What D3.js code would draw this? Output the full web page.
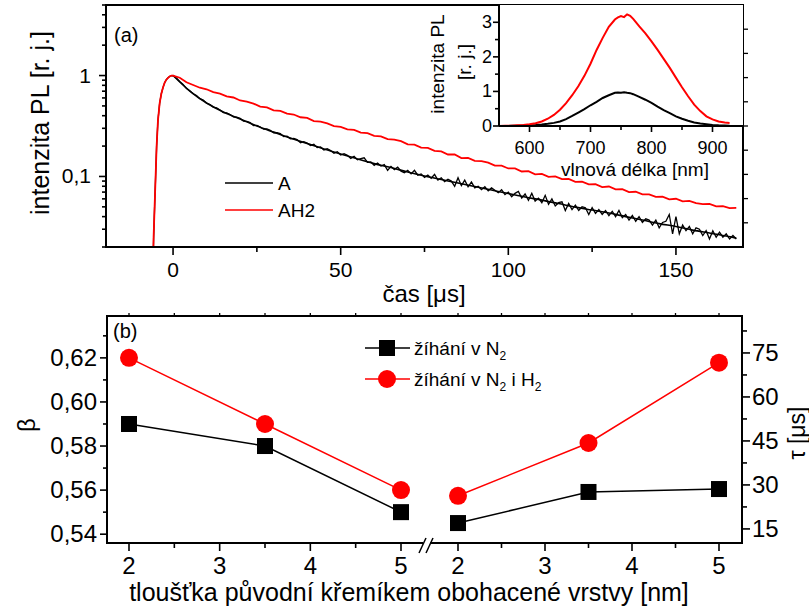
<!DOCTYPE html>
<html><head><meta charset="utf-8">
<script src="https://cdn.jsdelivr.net/npm/d3@7"></script>
<style>body{margin:0;background:#fff} text{font-family:"Liberation Sans",Arial,sans-serif;fill:#000}</style>
</head><body><svg id="c" width="809" height="607"></svg>
<script>
// ---------- panel (a): PL decay ----------
const riseTime = [-6, -5.8, -5.5, -5.2, -4.9, -4.5, -4, -3.5, -3, -2.5, -2, -1.5, -1, -0.5];
const riseA    = [0.012, 0.024, 0.05, 0.1, 0.2, 0.36, 0.53, 0.66, 0.76, 0.85, 0.91, 0.95, 0.98, 0.995];
const riseAH2  = [0.012, 0.025, 0.05, 0.1, 0.2, 0.36, 0.53, 0.66, 0.76, 0.85, 0.91, 0.95, 0.98, 1.0];
const decayTimeA = d3.range(0, 169, 1);
const decayA = [1.0,0.945,0.872,0.815,0.742,0.708,0.659,0.634,0.590,0.571,0.531,0.517,0.487,0.478,0.455,0.430,0.426,0.411,0.389,0.386,
0.376,0.354,0.351,0.341,0.320,0.321,0.309,0.294,0.296,0.287,0.271,0.272,0.266,0.248,0.251,0.236,0.238,0.232,0.216,0.221,
0.214,0.203,0.208,0.193,0.196,0.183,0.188,0.181,0.170,0.176,0.163,0.168,0.162,0.151,0.158,0.146,0.150,0.153,0.138,0.139,
0.129,0.136,0.127,0.131,0.115,0.126,0.117,0.124,0.113,0.109,0.115,0.106,0.115,0.103,0.106,0.098,0.103,0.096,0.105,0.092,
0.097,0.089,0.094,0.090,0.080,0.097,0.081,0.092,0.079,0.088,0.077,0.080,0.074,0.079,0.072,0.077,0.073,0.069,0.074,0.066,
0.070,0.063,0.068,0.071,0.061,0.067,0.058,0.068,0.057,0.061,0.055,0.065,0.053,0.060,0.051,0.055,0.056,0.046,0.054,0.047,
0.052,0.046,0.050,0.049,0.042,0.049,0.043,0.047,0.042,0.046,0.041,0.045,0.040,0.046,0.039,0.042,0.037,0.041,0.036,0.040,
0.035,0.038,0.037,0.033,0.037,0.031,0.035,0.036,0.042,0.027,0.040,0.027,0.033,0.029,0.032,0.027,0.031,0.030,0.026,0.029,
0.024,0.029,0.025,0.028,0.025,0.027,0.024,0.026,0.024];
const decayTimeAH2 = d3.range(0, 169, 2);
const decayAH2 = [1.0,0.952,0.858,0.806,0.757,0.731,0.684,0.662,0.622,0.606,0.566,0.551,0.527,0.493,0.484,0.452,0.446,0.419,0.411,0.386,
0.380,0.354,0.349,0.335,0.316,0.310,0.293,0.289,0.272,0.269,0.253,0.250,0.234,0.232,0.224,0.208,0.207,0.193,0.192,0.179,
0.177,0.165,0.165,0.152,0.153,0.143,0.142,0.137,0.128,0.128,0.120,0.120,0.112,0.113,0.105,0.106,0.099,0.100,0.094,0.0945,
0.0885,0.089,0.0835,0.084,0.0785,0.0795,0.0745,0.075,0.070,0.0705,0.0665,0.0665,0.0628,0.0632,0.0594,0.0601,0.0566,0.0572,0.0545,0.0531,
0.0534,0.0506,0.0509,0.0486,0.0488];
const fitTime = [0,5,10,15,20,25,30,35,40,45,50,55,60,65,70,75,80,85,90,95,100,105,110,115,120,125,130,135,140,145,150,155,160,165,168];
const fitA = [1.0,0.702,0.534,0.435,0.371,0.316,0.275,0.240,0.212,0.187,0.167,0.149,0.134,0.1225,0.1106,0.1009,0.0932,0.086,0.0794,0.0733,
0.0677,0.0625,0.0583,0.0539,0.0497,0.0465,0.0434,0.0400,0.0370,0.0341,0.0319,0.0294,0.0275,0.0257,0.0245];
const timeMajorTicks = [0, 50, 100, 150];
const timeMinorTicks = [25, 75, 125];
const intMajorTicks = [0.1, 1];
const intMajorLabels = ["0,1", "1"];
const intMinorTicks = [0.02,0.03,0.04,0.05,0.06,0.07,0.08,0.09,0.2,0.3,0.4,0.5,0.6,0.7,0.8,0.9,2,3,4,5];
const legendA = ["A", "AH2"];

// ---------- inset: spectra ----------
const specWl  = [550,560,570,580,590,600,610,620,630,640,650,660,670,680,690,700,710,720,730,740,745,750,755,760,765,770,
780,790,800,810,820,830,840,850,860,870,880,890,900,910,920,928];
const specA   = [0,0.002,0.004,0.007,0.012,0.02,0.03,0.045,0.065,0.09,0.13,0.2,0.29,0.39,0.49,0.6,0.7,0.81,0.89,0.96,0.97,0.96,0.975,0.96,0.95,0.92,
0.84,0.76,0.67,0.56,0.46,0.37,0.28,0.21,0.15,0.1,0.07,0.05,0.03,0.02,0.015,0.01];
const specAH2 = [0,0.005,0.01,0.02,0.03,0.05,0.08,0.13,0.21,0.32,0.47,0.66,0.89,1.15,1.45,1.8,2.2,2.55,2.87,3.08,3.14,3.18,3.15,3.23,3.19,3.1,
2.88,2.68,2.45,2.2,1.94,1.68,1.4,1.12,0.86,0.62,0.43,0.28,0.19,0.13,0.1,0.09];
const wlMajorTicks = [600, 700, 800, 900];
const wlMinorTicks = [650, 750, 850];
const specMajorTicks = [0, 1, 2, 3];
const specMinorTicks = [0.5, 1.5, 2.5];

// ---------- panel (b) ----------
const thickness = [2, 3.5, 5];
const betaN2   = [0.59, 0.58, 0.55];
const betaN2H2 = [0.62, 0.59, 0.56];
const tauN2    = [17.0, 27.6, 28.6];
const tauN2H2  = [26.3, 44.3, 71.7];
const thickMajorTicks = [2, 3, 4, 5];
const thickMinorTicks = [2.5, 3.5, 4.5];
const betaMajorTicks = [0.54, 0.56, 0.58, 0.60, 0.62];
const betaMinorTicks = [0.55, 0.57, 0.59, 0.61, 0.63];
const tauMajorTicks = [15, 30, 45, 60, 75];
const tauMinorTicks = [22.5, 37.5, 52.5, 67.5, 82.5];

const svg = d3.select('#c');
const fmt2 = d => d3.format('.2f')(d).replace('.', ',');

function ticksX(g, scale, vals, y, len, w) {
  g.append('g').selectAll('line').data(vals).join('line')
    .attr('x1', d => scale(d)).attr('x2', d => scale(d))
    .attr('y1', y).attr('y2', y + len).attr('stroke', '#000').attr('stroke-width', w || 1.6);
}
function ticksY(g, scale, vals, x, len, w) {
  g.append('g').selectAll('line').data(vals).join('line')
    .attr('y1', d => scale(d)).attr('y2', d => scale(d))
    .attr('x1', x).attr('x2', x + len).attr('stroke', '#000').attr('stroke-width', w || 1.6);
}

// ===== Panel (a) =====
const xT = d3.scaleLinear([-20, 170], [106, 743]);
const yT = d3.scaleLog([0.02, 5], [247, 5]);
const gA = svg.append('g');
gA.append('clipPath').attr('id', 'clipA').append('rect')
  .attr('x', xT.range()[0]).attr('y', yT.range()[1])
  .attr('width', xT.range()[1] - xT.range()[0]).attr('height', yT.range()[0] - yT.range()[1]);

const lineT = d3.line().x(d => xT(d[0])).y(d => yT(d[1]));
const serA = riseTime.map((t, i) => [t, riseA[i]]).concat(decayTimeA.map((t, i) => [t, decayA[i]]));
const serAH2 = riseTime.map((t, i) => [t, riseAH2[i]]).concat(decayTimeAH2.map((t, i) => [t, decayAH2[i]]));
const serFit = fitTime.map((t, i) => [t, fitA[i]]);
const plotA = gA.append('g').attr('clip-path', 'url(#clipA)');
plotA.append('path').attr('d', lineT(serA)).attr('fill', 'none').attr('stroke', '#000').attr('stroke-width', 1.3);
plotA.append('path').attr('d', d3.line().x(d => xT(d[0])).y(d => yT(d[1])).curve(d3.curveMonotoneX)(serFit))
  .attr('fill', 'none').attr('stroke', '#000').attr('stroke-width', 1.6);
plotA.append('path').attr('d', lineT(serAH2)).attr('fill', 'none').attr('stroke', '#ff0000').attr('stroke-width', 1.8);

// frame
gA.append('rect').attr('x', xT.range()[0]).attr('y', yT.range()[1])
  .attr('width', xT.range()[1] - xT.range()[0]).attr('height', yT.range()[0] - yT.range()[1])
  .attr('fill', 'none').attr('stroke', '#000').attr('stroke-width', 2);
// x ticks
ticksX(gA, xT, timeMajorTicks, yT.range()[0], 8);
ticksX(gA, xT, timeMinorTicks, yT.range()[0], 5);
gA.append('g').selectAll('text').data(timeMajorTicks).join('text')
  .attr('x', d => xT(d)).attr('y', 277).attr('text-anchor', 'middle').attr('font-size', 21).text(d => d);
// y ticks
ticksY(gA, yT, intMajorTicks, xT.range()[0], -7);
ticksY(gA, yT, intMinorTicks, xT.range()[0], -4);
gA.append('g').selectAll('text').data(intMajorTicks).join('text')
  .attr('x', 91).attr('y', d => yT(d) + 7).attr('text-anchor', 'end').attr('font-size', 21)
  .text((d, i) => intMajorLabels[i]);
// right mirror ticks
const yRight = d3.scaleLinear([0, 10], [247, 5]);
ticksY(gA, yRight, [1,2,3,4,5,6,7,8,9], xT.range()[1], 5, 1.3);
// titles
gA.append('text').attr('transform', 'translate(40,123) rotate(-90)').attr('text-anchor', 'middle')
  .attr('dy', '0.35em').attr('font-size', 25).text('intenzita PL [r. j.]');
gA.append('text').attr('x', 424).attr('y', 302).attr('text-anchor', 'middle').attr('font-size', 24).text('čas [μs]');
gA.append('text').attr('x', 114).attr('y', 42).attr('font-size', 20).text('(a)');
// legend
const legA = gA.append('g');
[0, 1].forEach(i => {
  const y = 183 + i * 27;
  legA.append('line').attr('x1', 225).attr('x2', 273).attr('y1', y).attr('y2', y)
    .attr('stroke', i ? '#ff0000' : '#000').attr('stroke-width', 1.6);
  legA.append('text').attr('x', 278).attr('y', y + 7).attr('font-size', 19).text(legendA[i]);
});

// ===== Inset =====
const xI = d3.scaleLinear([550, 950], [499, 743]);
const yI = d3.scaleLinear([0, 3.5], [126, 5]);
const gI = svg.append('g');
gI.append('rect').attr('x', xI.range()[0]).attr('y', yI.range()[1])
  .attr('width', xI.range()[1] - xI.range()[0]).attr('height', yI.range()[0] - yI.range()[1])
  .attr('fill', '#fff').attr('stroke', 'none');
const lineI = d3.line().x((d, i) => xI(specWl[i])).y(d => yI(d));
gI.append('path').attr('d', lineI(specA)).attr('fill', 'none').attr('stroke', '#000').attr('stroke-width', 2);
gI.append('path').attr('d', lineI(specAH2)).attr('fill', 'none').attr('stroke', '#ff0000').attr('stroke-width', 2);
gI.append('line').attr('x1', xI.range()[0]).attr('x2', xI.range()[1]).attr('y1', yI.range()[0]).attr('y2', yI.range()[0])
  .attr('stroke', '#000').attr('stroke-width', 2);
gI.append('line').attr('x1', xI.range()[0]).attr('x2', xI.range()[0]).attr('y1', yI.range()[0]).attr('y2', yI.range()[1])
  .attr('stroke', '#000').attr('stroke-width', 2);
ticksX(gI, xI, wlMajorTicks, yI.range()[0], 6);
ticksX(gI, xI, wlMinorTicks, yI.range()[0], 4);
ticksY(gI, yI, specMajorTicks, xI.range()[0], -6);
ticksY(gI, yI, specMinorTicks, xI.range()[0], -4);
gI.append('g').selectAll('text').data(wlMajorTicks).join('text')
  .attr('x', d => xI(d)).attr('y', 154).attr('text-anchor', 'middle').attr('font-size', 18).text(d => d);
gI.append('g').selectAll('text').data(specMajorTicks).join('text')
  .attr('x', 492).attr('y', d => yI(d) + 6).attr('text-anchor', 'end').attr('font-size', 18).text(d => d);
gI.append('text').attr('x', 635).attr('y', 176).attr('text-anchor', 'middle').attr('font-size', 19).text('vlnová délka [nm]');
gI.append('text').attr('transform', 'translate(437,64) rotate(-90)').attr('text-anchor', 'middle')
  .attr('dy', '0.35em').attr('font-size', 19).text('intenzita PL');
gI.append('text').attr('transform', 'translate(464,62) rotate(-90)').attr('text-anchor', 'middle')
  .attr('dy', '0.35em').attr('font-size', 19).text('[r. j.]');

// ===== Panel (b) =====
const frameB = {x0: 107, x1: 742, y0: 316, y1: 543};
const xL = d3.scaleLinear([2, 5], [129, 401]);
const xR = d3.scaleLinear([2, 5], [458, 719]);
const yB = d3.scaleLinear([0.536, 0.639], [frameB.y1, frameB.y0]);
const yTau = d3.scaleLinear([10.2, 87.6], [frameB.y1, frameB.y0]);
const gB = svg.append('g');
gB.append('rect').attr('x', frameB.x0).attr('y', frameB.y0).attr('width', frameB.x1 - frameB.x0)
  .attr('height', frameB.y1 - frameB.y0).attr('fill', 'none').attr('stroke', '#000').attr('stroke-width', 2);
// break
gB.append('rect').attr('x', 423).attr('y', frameB.y1 - 2).attr('width', 7).attr('height', 4).attr('fill', '#fff');
[[419, 426], [426, 433]].forEach(p => {
  gB.append('line').attr('x1', p[0]).attr('y1', frameB.y1 + 10).attr('x2', p[1]).attr('y2', frameB.y1 - 5)
    .attr('stroke', '#000').attr('stroke-width', 1.5);
});
// x ticks
[xL, xR].forEach(s => {
  ticksX(gB, s, thickMajorTicks, frameB.y1, 8);
  ticksX(gB, s, thickMinorTicks, frameB.y1, 5);
  ticksX(gB, s, thickMajorTicks.concat(thickMinorTicks), frameB.y0, -3, 1.3);
  gB.append('g').selectAll('text').data(thickMajorTicks).join('text')
    .attr('x', d => s(d)).attr('y', 574).attr('text-anchor', 'middle').attr('font-size', 24).text(d => d);
});
// y ticks
ticksY(gB, yB, betaMajorTicks, frameB.x0, -7);
ticksY(gB, yB, betaMinorTicks, frameB.x0, -4);
gB.append('g').selectAll('text').data(betaMajorTicks).join('text')
  .attr('x', 97).attr('y', d => yB(d) + 8).attr('text-anchor', 'end').attr('font-size', 24).text(fmt2);
ticksY(gB, yTau, tauMajorTicks, frameB.x1, 8);
ticksY(gB, yTau, tauMinorTicks, frameB.x1, 5);
gB.append('g').selectAll('text').data(tauMajorTicks).join('text')
  .attr('x', 752).attr('y', d => yTau(d) + 8).attr('text-anchor', 'start').attr('font-size', 24).text(d => d);
// data
const lineL = d3.line().x((d, i) => xL(thickness[i])).y(d => yB(d));
const lineR = d3.line().x((d, i) => xR(thickness[i])).y(d => yTau(d));
function series(vals, line, sx, sy, color, shape) {
  gB.append('path').attr('d', line(vals)).attr('fill', 'none').attr('stroke', color).attr('stroke-width', 1.5);
  const g = gB.append('g');
  if (shape === 'square') {
    g.selectAll('rect').data(vals).join('rect')
      .attr('x', (d, i) => sx(thickness[i]) - 8).attr('y', d => sy(d) - 8)
      .attr('width', 16).attr('height', 16).attr('fill', color);
  } else {
    g.selectAll('circle').data(vals).join('circle')
      .attr('cx', (d, i) => sx(thickness[i])).attr('cy', d => sy(d)).attr('r', 9).attr('fill', color);
  }
}
series(betaN2, lineL, xL, yB, '#000', 'square');
series(betaN2H2, lineL, xL, yB, '#ff0000', 'circle');
series(tauN2, lineR, xR, yTau, '#000', 'square');
series(tauN2H2, lineR, xR, yTau, '#ff0000', 'circle');
// legend
const legB = gB.append('g');
[0, 1].forEach(i => {
  const y = 348 + i * 31, c = i ? '#ff0000' : '#000';
  legB.append('line').attr('x1', 365).attr('x2', 410).attr('y1', y).attr('y2', y).attr('stroke', c).attr('stroke-width', 1.5);
  if (i) legB.append('circle').attr('cx', 387).attr('cy', y).attr('r', 9).attr('fill', c);
  else legB.append('rect').attr('x', 379).attr('y', y - 8).attr('width', 16).attr('height', 16).attr('fill', c);
  const t = legB.append('text').attr('x', 414).attr('y', y + 7).attr('font-size', 19);
  t.append('tspan').text('žíhání v N');
  t.append('tspan').attr('font-size', 12).attr('dy', 5).text('2');
  if (i) {
    t.append('tspan').attr('dy', -5).text(' i H');
    t.append('tspan').attr('font-size', 12).attr('dy', 5).text('2');
  }
});
gB.append('text').attr('x', 113).attr('y', 338).attr('font-size', 20).text('(b)');
gB.append('text').attr('transform', 'translate(27,425) rotate(-90)').attr('text-anchor', 'middle')
  .attr('dy', '0.35em').attr('font-size', 24).text('β');
gB.append('text').attr('transform', 'translate(797,433) rotate(-90)').attr('text-anchor', 'middle')
  .attr('dy', '0.35em').attr('font-size', 23).text('τ [μs]');
gB.append('text').attr('x', 409).attr('y', 601).attr('text-anchor', 'middle').attr('font-size', 25)
  .text('tloušťka původní křemíkem obohacené vrstvy [nm]');
</script></body></html>
